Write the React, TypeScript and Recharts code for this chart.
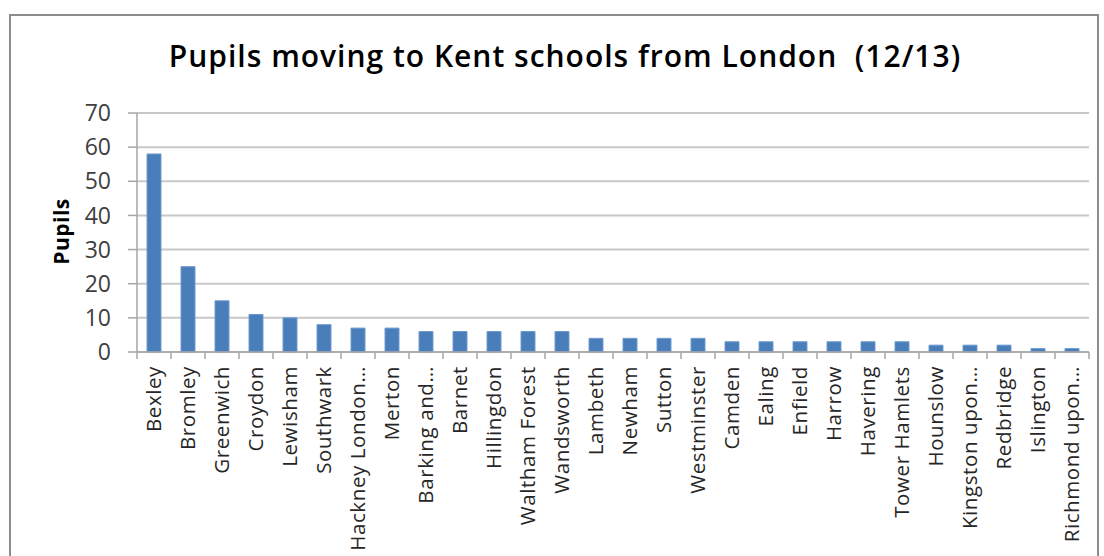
import React from 'react';
import { BarChart, Bar, XAxis, YAxis, CartesianGrid } from 'recharts';

const boroughs = [
  'Bexley', 'Bromley', 'Greenwich', 'Croydon', 'Lewisham', 'Southwark', 'Hackney London…', 'Merton',
  'Barking and…', 'Barnet', 'Hillingdon', 'Waltham Forest', 'Wandsworth', 'Lambeth', 'Newham', 'Sutton',
  'Westminster', 'Camden', 'Ealing', 'Enfield', 'Harrow', 'Havering', 'Tower Hamlets', 'Hounslow',
  'Kingston upon…', 'Redbridge', 'Islington', 'Richmond upon…',
];
const pupils = [58, 25, 15, 11, 10, 8, 7, 7, 6, 6, 6, 6, 6, 4, 4, 4, 4, 3, 3, 3, 3, 3, 3, 2, 2, 2, 1, 1];
const yTicks = [0, 10, 20, 30, 40, 50, 60, 70];
const title = 'Pupils moving to Kent schools from London\u00a0\u00a0(12/13)';
const yLabel = 'Pupils';

const data = boroughs.map((b, i) => ({ name: b, value: pupils[i] }));

const FONT = '"Open Sans", "Liberation Sans", sans-serif';
const AXIS_GRAY = '#a6a6a6';

const XTick = (props: any) => {
  const { x, y, payload, index, width, visibleTicksCount } = props;
  const band = width / visibleTicksCount;
  const top = y - 8;
  return (
    <g>
      <line x1={x - band / 2} x2={x - band / 2} y1={top} y2={top + 7} stroke={AXIS_GRAY} strokeWidth={1.5} />
      {index === visibleTicksCount - 1 && (
        <line x1={x + band / 2} x2={x + band / 2} y1={top} y2={top + 7} stroke={AXIS_GRAY} strokeWidth={1.5} />
      )}
      <text
        x={x}
        y={top + 14}
        transform={`rotate(-90, ${x}, ${top + 14})`}
        textAnchor="end"
        dy="0.35em"
        fontFamily={FONT}
        fontSize={20.5}
        letterSpacing={0.6}
        fill="#262626"
      >
        {payload.value}
      </text>
    </g>
  );
};

const YLabel = (props: any) => {
  const { viewBox } = props;
  const cy = viewBox.y + viewBox.height / 2 - 1;
  return (
    <text
      x={62}
      y={cy}
      transform={`rotate(-90, 62, ${cy})`}
      textAnchor="middle"
      dy="0.35em"
      fontFamily={FONT}
      fontWeight="bold"
      fontSize={21}
      letterSpacing={0.5}
      fill="#000"
    >
      {yLabel}
    </text>
  );
};

export default function App() {
  return (
    <div style={{ position: 'absolute', left: 0, top: 0, width: 1104, height: 556, overflow: 'hidden', background: '#fff' }}>
      <div
        style={{
          position: 'absolute', left: 9, top: 14, width: 1090, height: 620,
          border: '2px solid #8c8c8c', boxSizing: 'border-box',
        }}
      />
      <div
        style={{
          position: 'absolute', left: 0, width: 1130, top: 35, textAlign: 'center',
          fontFamily: FONT, fontWeight: 600, fontSize: 30, letterSpacing: 1, color: '#000', whiteSpace: 'nowrap',
        }}
      >
        {title}
      </div>
      <div style={{ position: 'absolute', left: 0, top: 0 }}>
        <BarChart
          width={1104}
          height={556}
          data={data}
          margin={{ top: 113, right: 15, bottom: 0, left: 0 }}
          barSize={14}
        >
          <CartesianGrid vertical={false} stroke="#c8c8c8" strokeWidth={2} />
          <XAxis
            dataKey="name"
            interval={0}
            height={204}
            tick={<XTick />}
            tickLine={false}
            axisLine={{ stroke: AXIS_GRAY, strokeWidth: 1.5 }}
          />
          <YAxis
            width={137}
            domain={[0, 70]}
            ticks={yTicks}
            interval={0}
            tickSize={9}
            tickMargin={17}
            tickLine={{ stroke: AXIS_GRAY, strokeWidth: 1.5 }}
            axisLine={{ stroke: AXIS_GRAY, strokeWidth: 1.5 }}
            tick={{ fontFamily: FONT, fontSize: 23, fill: '#404040' }}
            label={<YLabel />}
          />
          <Bar dataKey="value" fill="#4a7ebb" stroke="#6f9ad0" strokeWidth={1} isAnimationActive={false} />
        </BarChart>
      </div>
    </div>
  );
}
